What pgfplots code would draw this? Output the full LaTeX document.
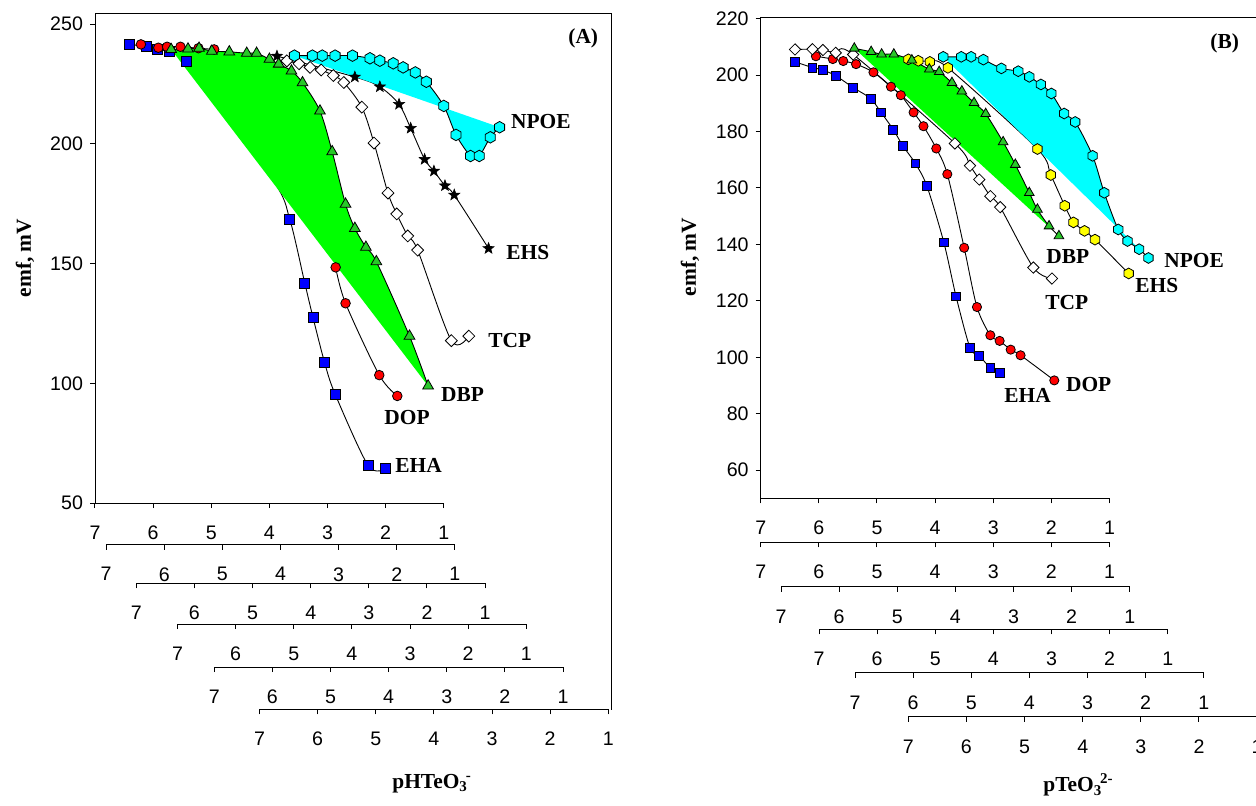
\documentclass[border=0pt]{standalone}
\usepackage{fontspec}
\setmainfont{Liberation Sans}
\newfontfamily\tnr{Liberation Serif}
\usepackage{pgfplots}
\pgfplotsset{compat=1.18}
\usetikzlibrary{plotmarks}

\definecolor{mblue}{RGB}{0,0,255}
\definecolor{mred}{RGB}{255,0,0}
\definecolor{tgreen}{RGB}{40,200,40}
\definecolor{fgreen}{RGB}{0,255,0}
\definecolor{mcyan}{RGB}{0,255,255}
\definecolor{myellow}{RGB}{255,255,0}

\pgfdeclareplotmark{hexagon}{%
  \pgfpathmoveto{\pgfqpointpolar{90}{\pgfplotmarksize}}%
  \pgfpathlineto{\pgfqpointpolar{150}{\pgfplotmarksize}}%
  \pgfpathlineto{\pgfqpointpolar{210}{\pgfplotmarksize}}%
  \pgfpathlineto{\pgfqpointpolar{270}{\pgfplotmarksize}}%
  \pgfpathlineto{\pgfqpointpolar{330}{\pgfplotmarksize}}%
  \pgfpathlineto{\pgfqpointpolar{30}{\pgfplotmarksize}}%
  \pgfpathclose
  \pgfusepathqfillstroke}
\pgfdeclareplotmark{fstar}{%
  \pgfpathmoveto{\pgfqpointpolar{90}{\pgfplotmarksize}}%
  \pgfpathlineto{\pgfqpointpolar{126}{0.42\pgfplotmarksize}}%
  \pgfpathlineto{\pgfqpointpolar{162}{\pgfplotmarksize}}%
  \pgfpathlineto{\pgfqpointpolar{198}{0.42\pgfplotmarksize}}%
  \pgfpathlineto{\pgfqpointpolar{234}{\pgfplotmarksize}}%
  \pgfpathlineto{\pgfqpointpolar{270}{0.42\pgfplotmarksize}}%
  \pgfpathlineto{\pgfqpointpolar{306}{\pgfplotmarksize}}%
  \pgfpathlineto{\pgfqpointpolar{342}{0.42\pgfplotmarksize}}%
  \pgfpathlineto{\pgfqpointpolar{18}{\pgfplotmarksize}}%
  \pgfpathlineto{\pgfqpointpolar{54}{0.42\pgfplotmarksize}}%
  \pgfpathclose
  \pgfusepathqfillstroke}

\newcommand{\ticfont}{\fontsize{9.8}{11}\selectfont}
\newcommand{\lab}{\tnr\bfseries\fontsize{10.7}{12}\selectfont}

\pgfplotsset{
  ruler/.style={scale only axis, anchor=south west, width=174.4pt, height=10pt,
    xmin=1, xmax=7, x dir=reverse, ymin=0, ymax=1, enlargelimits=false,
    axis x line=bottom, axis y line=none,
    axis line style={-, black, line width=0.5pt},
    xtick={1,2,3,4,5,6,7}, tick align=outside, major tick length=2.5pt,
    tick style={black, line width=0.5pt},
    xticklabel style={font=\ticfont, yshift=-5.4pt},
    /pgf/number format/assume math mode=true},
  yax/.style={scale only axis, anchor=south west, width=174.4pt,
    xmin=0, xmax=1, enlargelimits=false,
    axis y line=left, axis x line=none,
    axis line style={-, black, line width=0.5pt},
    tick align=outside, major tick length=2.5pt,
    tick style={black, line width=0.5pt},
    yticklabel style={font=\ticfont},
    /pgf/number format/assume math mode=true},
  data/.style={hide axis, scale only axis, anchor=south west, width=174.4pt,
    xmin=1, xmax=7, x dir=reverse, enlargelimits=false, clip=false},
  curve/.style={black, line width=0.45pt, smooth},
}
\newcommand{\ruler}[2]{\begin{axis}[ruler, at={(#1pt,-#2pt)}]\end{axis}}

\begin{document}
\begin{tikzpicture}
\useasboundingbox (0,0) rectangle (628pt,-402.5pt);

% ---------------- panel A ----------------
\begin{axis}[yax, at={(47.5pt,-251.5pt)}, height=245pt,
  ymin=50, ymax=254.6, ytick={50,100,150,200,250}]
\end{axis}
\ruler{47.5}{251.5}
\ruler{53.05}{272.3}
\ruler{68.15}{291.7}
\ruler{88.75}{312.1}
\ruler{107.1}{333.55}
\ruler{129.75}{354.65}

\begin{axis}[data, at={(47.5pt,-251.5pt)}, height=245pt, ymin=50, ymax=254.6]
% EHA: fitted line (with the point where it leaves the green area) and points
\addplot[curve] coordinates {
  (6.41,241.5)(6.11,240.5)(5.93,239.4)(5.72,238.4)(5.42,234.3)(3.94,184.9)
  (3.65,168.5)(3.39,141.7)(3.25,127.5)(3.05,108.6)(2.87,95.5)(2.30,65.6)(2.00,64.5)};
\addplot[only marks, mark=square*, mark size=2.5pt,
  mark options={fill=mblue, draw=black, line width=0.4pt}] coordinates {
  (6.41,241.5)(6.11,240.5)(5.93,239.4)(5.72,238.4)(5.42,234.3)(3.65,168.5)
  (3.39,141.7)(3.25,127.5)(3.05,108.6)(2.87,95.5)(2.30,65.6)(2.00,64.5)};
% DOP (line hidden under the green area in the middle)
\addplot[curve, unbounded coords=jump, mark=*, mark size=2.4pt,
  mark options={fill=mred, draw=black, line width=0.4pt}] coordinates {
  (6.21,241.5)(5.91,240.1)(5.76,240.5)(5.53,240.5)(5.22,239.9)(4.95,239.4)
  (3.9,nan)
  (2.86,148.4)(2.69,133.4)(2.11,103.4)(1.80,94.7)};
% TCP
\addplot[curve, mark=square*, mark size=2.1pt,
  mark options={rotate=45, fill=white, draw=black, line width=0.4pt}] coordinates {
  (3.70,234.6)(3.49,233.4)(3.30,231.9)(3.11,230.8)(2.90,228.5)(2.72,225.6)
  (2.41,215.3)(2.20,200.3)(1.96,179.4)(1.81,170.7)(1.62,161.5)(1.45,155.6)
  (0.87,117.8)(0.57,119.7)};
% EHS
\addplot[curve, mark=fstar, mark size=2.9pt,
  mark options={fill=black, draw=black, line width=0.3pt}] coordinates {
  (3.87,236.6)(2.53,227.9)(2.10,223.8)(1.77,216.5)(1.57,206.5)(1.33,193.5)
  (1.17,188.6)(0.98,182.5)(0.82,178.6)(0.23,156.3)};
% DBP
\addplot[curve, fill=fgreen, mark=triangle*, mark size=3.1pt,
  mark options={fill=tgreen, draw=black, line width=0.4pt}] coordinates {
  (5.69,239.4)(5.40,239.6)(5.21,239.9)(4.99,238.7)(4.69,238.4)(4.39,237.8)
  (4.22,237.8)(4.00,235.3)(3.84,233.3)(3.62,230.4)(3.43,225.5)(3.13,213.7)
  (2.92,196.7)(2.69,174.8)(2.53,164.7)(2.34,156.8)(2.16,150.8)(1.59,119.7)
  (1.27,98.9)};
% NPOE
\addplot[curve, fill=mcyan, mark=hexagon, mark size=2.9pt,
  mark options={fill=mcyan, draw=black, line width=0.4pt}] coordinates {
  (3.57,236.8)(3.26,236.8)(3.09,236.8)(2.87,236.8)(2.57,236.8)(2.27,235.7)
  (2.10,234.7)(1.87,233.6)(1.70,231.9)(1.49,229.8)(1.30,225.9)(1.00,215.8)
  (0.79,203.7)(0.54,194.9)(0.39,194.9)(0.20,202.7)(0.04,206.9)};
\end{axis}

\draw[black, line width=0.5pt] (47.5pt,-6.5pt) -- (305.5pt,-6.5pt) -- (305.5pt,-354.8pt);

\node[anchor=west, inner sep=0, font=\lab] at (255.35pt,-61pt) {NPOE};
\node[anchor=west, inner sep=0, font=\lab] at (253pt,-126.5pt) {EHS};
\node[anchor=west, inner sep=0, font=\lab] at (244pt,-170.35pt) {TCP};
\node[anchor=west, inner sep=0, font=\lab] at (220.35pt,-197.5pt) {DBP};
\node[anchor=west, inner sep=0, font=\lab] at (192pt,-209pt) {DOP};
\node[anchor=west, inner sep=0, font=\lab] at (197.5pt,-232.5pt) {EHA};
\node[anchor=west, inner sep=0, font=\lab] at (284pt,-19pt) {(A)};
\node[rotate=90, inner sep=0, font=\lab] at (12.5pt,-129pt) {emf, mV};
\node[anchor=base west, inner sep=0, font=\lab] at (196pt,-394pt)
  {pHTeO\textsubscript{3}\kern-0.1em\textsuperscript{-}};

% ---------------- panel B ----------------
\begin{axis}[yax, at={(380.35pt,-249.15pt)}, height=240.5pt,
  ymin=50, ymax=220.5, ytick={60,80,100,120,140,160,180,200,220}]
\end{axis}
\ruler{380.35}{249.15}
\ruler{380.35}{271.15}
\ruler{390.5}{293.35}
\ruler{409.5}{314.65}
\ruler{427.5}{336.35}
\ruler{454.15}{358.35}

\begin{axis}[data, at={(380.35pt,-249.15pt)}, height=240.5pt, ymin=50, ymax=220.5]
% EHA
\addplot[curve, mark=square*, mark size=2.2pt,
  mark options={fill=mblue, draw=black, line width=0.4pt}] coordinates {
  (6.41,204.7)(6.11,202.7)(5.93,201.8)(5.71,199.8)(5.41,195.6)(5.11,191.7)
  (4.93,186.8)(4.72,180.7)(4.55,174.8)(4.34,168.7)(4.14,160.6)(3.85,140.7)
  (3.64,121.6)(3.40,103.4)(3.24,100.5)(3.05,96.3)(2.88,94.4)};
% DOP
\addplot[curve, mark=*, mark size=2.3pt,
  mark options={fill=mred, draw=black, line width=0.4pt}] coordinates {
  (6.05,206.7)(5.76,205.7)(5.58,205.0)(5.36,203.9)(5.06,201.0)(4.76,195.9)
  (4.59,192.9)(4.37,186.8)(4.20,181.9)(3.98,174.0)(3.79,164.9)(3.50,138.8)
  (3.28,117.8)(3.05,107.8)(2.89,105.8)(2.70,102.7)(2.53,100.7)(1.95,91.8)};
% TCP
\addplot[curve, mark=square*, mark size=2.0pt,
  mark options={rotate=45, fill=white, draw=black, line width=0.4pt}] coordinates {
  (6.41,209.1)(6.11,209.2)(5.93,208.9)(5.71,207.9)(5.41,207.3)(3.66,175.8)
  (3.40,167.9)(3.24,163.0)(3.05,157.1)(2.88,153.2)(2.31,131.8)(1.99,127.9)};
% EHS
\addplot[curve, mark=hexagon, mark size=2.7pt,
  mark options={fill=myellow, draw=black, line width=0.4pt}] coordinates {
  (4.46,205.6)(4.29,205.1)(4.09,204.7)(3.78,202.6)(2.24,173.8)(2.01,164.6)
  (1.77,153.7)(1.62,147.8)(1.43,144.8)(1.25,141.7)(0.67,129.7)};
% DBP
\addplot[curve, fill=fgreen, mark=triangle*, mark size=2.8pt,
  mark options={fill=tgreen, draw=black, line width=0.4pt}] coordinates {
  (5.39,209.5)(5.10,208.3)(4.92,207.4)(4.71,207.4)(4.40,205.3)(4.10,202.1)
  (3.93,201.2)(3.71,197.3)(3.54,194.3)(3.33,190.2)(3.13,186.3)(2.83,176.3)
  (2.62,168.3)(2.38,158.3)(2.24,152.4)(2.04,146.5)(1.87,143.0)};
% NPOE
\addplot[curve, fill=mcyan, mark=hexagon, mark size=2.7pt,
  mark options={fill=mcyan, draw=black, line width=0.4pt}] coordinates {
  (3.86,206.5)(3.55,206.5)(3.38,206.5)(3.17,205.5)(2.86,202.4)(2.57,201.4)
  (2.38,199.4)(2.18,196.7)(2.00,193.5)(1.78,186.4)(1.59,183.4)(1.29,171.4)
  (1.09,158.3)(0.85,145.3)(0.69,141.2)(0.49,138.3)(0.33,135.2)};
\end{axis}

\draw[black, line width=0.5pt] (380.35pt,-8.65pt) -- (628pt,-8.65pt);

\node[anchor=west, inner sep=0, font=\lab] at (523pt,-128.35pt) {DBP};
\node[anchor=west, inner sep=0, font=\lab] at (582pt,-130.5pt) {NPOE};
\node[anchor=west, inner sep=0, font=\lab] at (567.5pt,-143pt) {EHS};
\node[anchor=west, inner sep=0, font=\lab] at (522.5pt,-151.35pt) {TCP};
\node[anchor=west, inner sep=0, font=\lab] at (532.85pt,-192.5pt) {DOP};
\node[anchor=west, inner sep=0, font=\lab] at (502pt,-197.5pt) {EHA};
\node[anchor=west, inner sep=0, font=\lab] at (605pt,-21.65pt) {(B)};
\node[rotate=90, inner sep=0, font=\lab] at (345pt,-128.5pt) {emf, mV};
\node[anchor=base west, inner sep=0, font=\lab] at (521.5pt,-395.85pt)
  {pTeO\textsubscript{3}\kern-0.1em\textsuperscript{2-}};
\end{tikzpicture}
\end{document}
